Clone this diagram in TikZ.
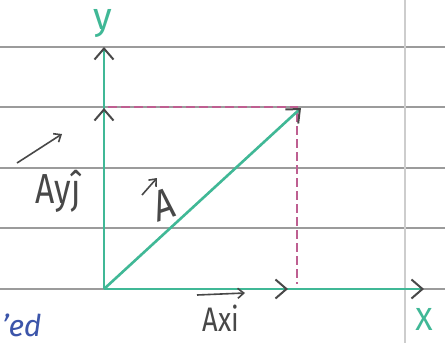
\documentclass[tikz,border=0pt]{standalone}
\usepackage{fontspec}
\setmainfont{Fira Sans}
\usetikzlibrary{arrows.meta}
\definecolor{pengreen}{RGB}{64,184,150}
\definecolor{pencil}{RGB}{72,72,72}
\definecolor{ruled}{RGB}{155,155,155}
\definecolor{marginline}{RGB}{205,205,205}
\definecolor{dashpink}{RGB}{190,95,145}
\definecolor{inkblue}{RGB}{60,85,170}
\begin{document}
\begin{tikzpicture}[x=1pt,y=-1pt,
  rule/.style={ruled,line width=1.8pt},
  axisline/.style={pengreen,line width=2.6pt,
    -{Straight Barb[color=pencil,length=11pt,width=19pt,line width=2pt]}},
  guide/.style={dashpink,line width=1.3pt,dash pattern=on 9pt off 4pt},
  pencillabel/.style={pencil,font=\fontsize{42}{42}\selectfont,inner sep=0pt,xscale=0.8},
  greenlabel/.style={pengreen,font=\fontsize{38}{38}\selectfont,inner sep=0pt},
  smallarrow/.style={pencil,line width=1.6pt,
    -{Straight Barb[length=6pt,width=10pt,line width=1.6pt]}}]
\useasboundingbox (0,0) rectangle (445,343);
\fill[white] (0,0) rectangle (445,343);
% ruled paper
\foreach \yy in {47,107,168,228,289}{
  \draw[rule] (0,\yy) -- (445,\yy);
}
\draw[marginline,line width=1.5pt] (405,0) -- (405,343);
% key points
\coordinate (O) at (104,289);
\coordinate (Ytop) at (104,47);
\coordinate (Ay) at (104,108);
\coordinate (Xend) at (424,289);
\coordinate (Ax) at (288,289);
\coordinate (Aend) at (301,108);
\coordinate (Hl) at (108,107);
\coordinate (Hr) at (298,107);
\coordinate (Vt) at (297,113);
\coordinate (Vb) at (297,284);
% dashed projections
\draw[guide] (Hl) -- (Hr);
\draw[guide] (Vt) -- (Vb);
% axes and components
\draw[axisline] (O) -- (Ytop);
\draw[axisline] (O) -- (Ay);
\draw[axisline] (O) -- (Xend);
\draw[axisline] (O) -- (Ax);
\draw[axisline] (O) -- (Aend);
% labels
\node[greenlabel] (ylab) at (103,24) {y};
\node[greenlabel,font=\fontsize{32}{32}\selectfont] (xlab) at (424,319) {X};
\node[pencillabel] (aylab) at (58,191) {Ayĵ};
\coordinate (ayArrS) at (17,163);
\coordinate (ayArrE) at (62,134);
\draw[smallarrow] (ayArrS) -- (ayArrE);
\node[pencillabel,rotate=15,font=\fontsize{44}{44}\selectfont] (alab) at (164,205) {A};
\coordinate (aArrS) at (142,195);
\coordinate (aArrE) at (157,178);
\draw[smallarrow] (aArrS) -- (aArrE);
\node[pencillabel,font=\fontsize{34}{34}\selectfont] (axlab) at (221,318) {Axi};
\coordinate (axArrS) at (197,295);
\coordinate (axArrE) at (245,293);
\draw[smallarrow] (axArrS) -- (axArrE);
\node[inkblue,font=\itshape\fontsize{30}{30}\selectfont,inner sep=0pt,anchor=base west] (edlab) at (2,336) {’ed};
\end{tikzpicture}
\end{document}
